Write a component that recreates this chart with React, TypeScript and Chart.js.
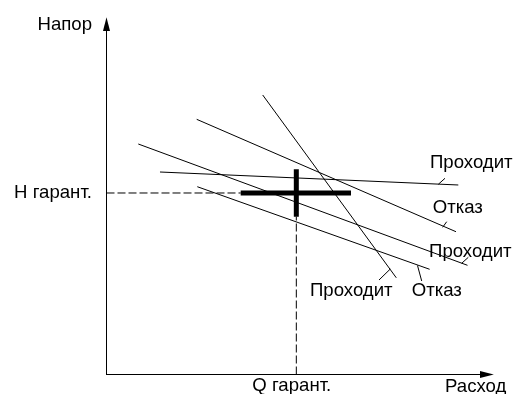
import { useEffect, useRef } from "react";
import { Chart, registerables } from "chart.js";

Chart.register(...registerables);

// Guaranteed operating point (relative units, 0..100 on both axes)
const H_GUARANT = 52.84;
const Q_GUARANT = 50.82;

const Y_TICK_LABEL = "H гарант.";
const X_TICK_LABEL = "Q гарант.";
const Y_AXIS_TITLE = "Напор";
const X_AXIS_TITLE = "Расход";

// Pump characteristic lines: start/end points (Q, H)
const CURVE_LABELS = ["Проходит", "Отказ", "Проходит", "Отказ", "Проходит"];
const CURVE_Q_START = [14.32, 24.15, 8.51, 24.31, 41.82];
const CURVE_H_START = [58.95, 74.29, 67.1, 54.67, 81.37];
const CURVE_Q_END = [94.19, 93.57, 96.65, 86.51, 77.59];
const CURVE_H_END = [55.17, 41.57, 31.79, 30.63, 28.15];

// Leader ticks from each curve to its label
const LEADER_Q_FROM = [88.84, 90.01, 95.1, 83.27, 75.98];
const LEADER_H_FROM = [55.37, 42.85, 32.37, 31.73, 30.71];
const LEADER_Q_TO = [90.63, 91.08, 96.87, 84.39, 72.96];
const LEADER_H_TO = [57.12, 44.48, 34.12, 27.22, 27.51];

// Label anchors (left edge, baseline)
const LABEL_Q = [86.61, 87.34, 86.35, 81.71, 54.48];
const LABEL_H = [60.03, 46.93, 34.35, 22.85, 22.85];

// Tolerance cross around the guaranteed point
const CROSS_Q_RANGE = [35.93, 65.46];
const CROSS_H_RANGE = [45.94, 59.74];

const FONT_FAMILY = '"Liberation Sans", Arial, sans-serif';
const FONT_SIZE = 18.6;

const overlayPlugin = {
  id: "overlay",
  afterDraw(chart: any) {
    const { ctx, chartArea, scales } = chart;
    const xs = scales.x;
    const ys = scales.y;
    ctx.save();
    ctx.fillStyle = "#000";
    // arrow heads
    const ax = chartArea.left;
    ctx.beginPath();
    ctx.moveTo(ax, chartArea.top - 13.7);
    ctx.lineTo(ax - 3.5, chartArea.top);
    ctx.lineTo(ax + 3.5, chartArea.top);
    ctx.closePath();
    ctx.fill();
    const ay = chartArea.bottom;
    ctx.beginPath();
    ctx.moveTo(chartArea.right + 13.8, ay);
    ctx.lineTo(chartArea.right, ay - 3.5);
    ctx.lineTo(chartArea.right, ay + 3.5);
    ctx.closePath();
    ctx.fill();

    ctx.font = `${FONT_SIZE}px ${FONT_FAMILY}`;
    ctx.textBaseline = "alphabetic";
    ctx.textAlign = "right";
    ctx.fillText(Y_AXIS_TITLE, chartArea.left - 14.5, chartArea.top - 1);
    ctx.textAlign = "left";
    ctx.fillText(X_AXIS_TITLE, chartArea.right - 35, chartArea.bottom + 17);

    CURVE_LABELS.forEach((t, i) => {
      ctx.fillText(t, xs.getPixelForValue(LABEL_Q[i]), ys.getPixelForValue(LABEL_H[i]));
    });
    ctx.restore();
  },
};

export default function App() {
  const ref = useRef<HTMLCanvasElement | null>(null);

  useEffect(() => {
    if (!ref.current) return;
    const line = (pts: { x: number; y: number }[], width: number, dash: number[] = []) => ({
      data: pts,
      showLine: true,
      borderColor: "#000",
      backgroundColor: "#000",
      borderWidth: width,
      borderDash: dash,
      borderCapStyle: "butt",
      pointRadius: 0,
      pointHoverRadius: 0,
      tension: 0,
    });

    const datasets: any[] = [];
    datasets.push(line([{ x: 0, y: H_GUARANT }, { x: CROSS_Q_RANGE[0], y: H_GUARANT }], 1, [8, 3]));
    datasets.push(line([{ x: Q_GUARANT, y: 0 }, { x: Q_GUARANT, y: CROSS_H_RANGE[0] }], 1, [8, 3]));
    CURVE_Q_START.forEach((q, i) => {
      datasets.push(line([{ x: q, y: CURVE_H_START[i] }, { x: CURVE_Q_END[i], y: CURVE_H_END[i] }], 1));
    });
    LEADER_Q_FROM.forEach((q, i) => {
      datasets.push(line([{ x: q, y: LEADER_H_FROM[i] }, { x: LEADER_Q_TO[i], y: LEADER_H_TO[i] }], 1));
    });
    datasets.push(line([{ x: CROSS_Q_RANGE[0], y: H_GUARANT }, { x: CROSS_Q_RANGE[1], y: H_GUARANT }], 5));
    datasets.push(line([{ x: Q_GUARANT, y: CROSS_H_RANGE[0] }, { x: Q_GUARANT, y: CROSS_H_RANGE[1] }], 5));

    const tickFont = { family: FONT_FAMILY, size: FONT_SIZE };
    const noPad = (s: any) => {
      s.paddingTop = 0;
      s.paddingBottom = 0;
      s.paddingLeft = 0;
      s.paddingRight = 0;
    };

    const chart = new Chart(ref.current, {
      type: "scatter",
      data: { datasets },
      options: {
        animation: false,
        responsive: false,
        devicePixelRatio: 1,
        events: [],
        layout: { padding: { top: 31, right: 36, left: 0, bottom: 0 } },
        plugins: { legend: { display: false }, tooltip: { enabled: false } },
        scales: {
          x: {
            type: "linear",
            min: 0,
            max: 100,
            position: "bottom",
            grid: { display: false, drawTicks: false },
            border: { display: true, color: "#000", width: 1 },
            afterBuildTicks: (s: any) => {
              s.ticks = [{ value: Q_GUARANT }];
            },
            afterFit: (s: any) => {
              s.height = 19.5;
              noPad(s);
            },
            ticks: {
              callback: () => X_TICK_LABEL,
              font: tickFont,
              color: "#000",
              padding: 0,
              labelOffset: -4.5,
              maxRotation: 0,
              autoSkip: false,
            },
          },
          y: {
            type: "linear",
            min: 0,
            max: 100,
            position: "left",
            grid: { display: false, drawTicks: false },
            border: { display: true, color: "#000", width: 1 },
            afterBuildTicks: (s: any) => {
              s.ticks = [{ value: H_GUARANT }];
            },
            afterFit: (s: any) => {
              s.width = 106.5;
              noPad(s);
            },
            ticks: {
              callback: () => Y_TICK_LABEL,
              font: tickFont,
              color: "#000",
              padding: 14.5,
              autoSkip: false,
            },
          },
        },
      } as any,
      plugins: [overlayPlugin],
    });
    return () => chart.destroy();
  }, []);

  return (
    <div style={{ position: "fixed", left: 0, top: 0, width: 516, height: 394, background: "#fff" }}>
      <canvas ref={ref} width={516} height={394} style={{ display: "block", width: 516, height: 394 }} />
    </div>
  );
}
